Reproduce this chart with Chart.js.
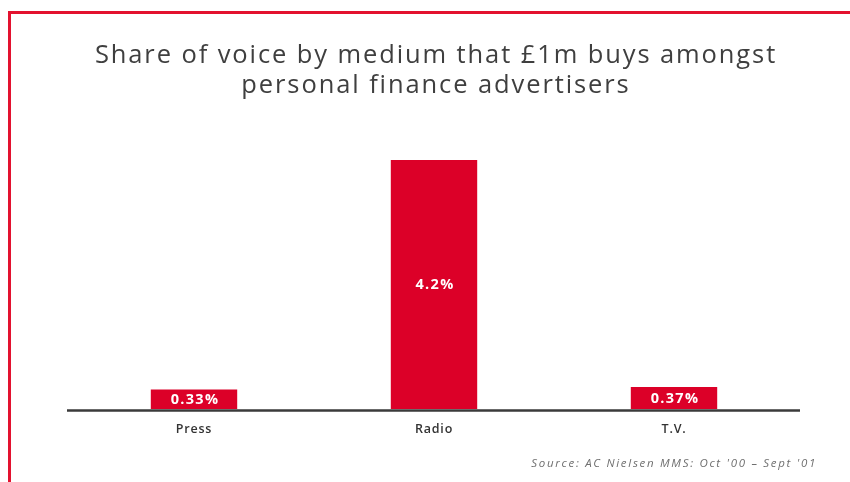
<!DOCTYPE html>
<html>
<head>
<meta charset="utf-8">
<script src="https://cdn.jsdelivr.net/npm/chart.js@4.4.1/dist/chart.umd.min.js"></script>
<style>
  html, body { margin: 0; padding: 0; background: #fff; }
  #wrap { position: relative; width: 850px; height: 482px; overflow: hidden; }
  /* red frame round the panel */
  #frame { position: absolute; left: 8px; top: 11px; width: 900px; height: 500px;
           border-top: 3px solid #e3122f; border-left: 3px solid #e3122f; }
  canvas { position: absolute; left: 0; top: 0; }
</style>
</head>
<body>
<div id="wrap">
  <div id="frame"></div>
  <canvas id="chart" width="850" height="482"></canvas>
</div>
<script>
// Dữ liệu biểu đồ
const categories = ['Press', 'Radio', 'T.V.'];
const shareValues = [0.33, 4.2, 0.37];
const valueLabels = ['0.33%', '4.2%', '0.37%'];
const titleLines = ['Share of voice by medium that £1m buys amongst', 'personal finance advertisers'];
const sourceText = "Source: AC Nielsen MMS: Oct '00 \u2013 Sept '01";

const barRed = '#dc0028';

// Giãn chữ cho nhãn trục (chữ gốc khá thưa)
const spacingPlugin = {
    id: 'spacing',
    beforeDraw(chart) {
        chart.ctx.letterSpacing = '0.8px';
    }
};

// Vẽ tiêu đề, đường trục ngang, nhãn giá trị trong cột và dòng nguồn
const extrasPlugin = {
    id: 'extras',
    afterDatasetsDraw(chart) {
        const ctx = chart.ctx;
        const area = chart.chartArea;
        ctx.save();

        // tiêu đề hai dòng
        ctx.fillStyle = '#3f3f3f';
        ctx.font = '25.5px "Open Sans", sans-serif';
        ctx.letterSpacing = '1.9px';
        ctx.textAlign = 'center';
        ctx.textBaseline = 'alphabetic';
        const cx = (area.left + area.right) / 2 + 2;
        ctx.fillText(titleLines[0], cx, 63);
        ctx.fillText(titleLines[1], cx, 93);

        // đường trục
        ctx.strokeStyle = '#3a3a3a';
        ctx.lineWidth = 2.5;
        ctx.beginPath();
        ctx.moveTo(area.left - 7, area.bottom + 1.5);
        ctx.lineTo(area.right + 6, area.bottom + 1.5);
        ctx.stroke();

        // nhãn giá trị
        const meta = chart.getDatasetMeta(0);
        ctx.fillStyle = '#ffffff';
        ctx.font = 'bold 14.5px "Open Sans", sans-serif';
        ctx.letterSpacing = '1.3px';
        ctx.textBaseline = 'middle';
        meta.data.forEach((bar, i) => {
            const mid = (bar.y + bar.base) / 2;
            ctx.fillText(valueLabels[i], bar.x + 1, mid + 0.5);
        });

        // nguồn
        ctx.fillStyle = '#6f6f6f';
        ctx.font = 'italic 11.5px "Open Sans", sans-serif';
        ctx.letterSpacing = '1.7px';
        ctx.textAlign = 'right';
        ctx.textBaseline = 'alphabetic';
        ctx.fillText(sourceText, 817, 467);
        ctx.restore();
    }
};

const chart = new Chart(document.getElementById('chart'), {
    type: 'bar',
    data: {
        labels: categories,
        datasets: [{
            data: shareValues,
            backgroundColor: barRed,
            borderWidth: 0,
            barPercentage: 0.36,
            categoryPercentage: 1.0
        }]
    },
    options: {
        responsive: false,
        animation: false,
        layout: { padding: { left: 74, right: 56, top: 160, bottom: 32 } },
        plugins: {
            legend: { display: false },
            tooltip: { enabled: false },
            title: { display: false }
        },
        scales: {
            x: {
                grid: { display: false, drawTicks: false },
                border: { display: false },
                ticks: {
                    color: '#333',
                    padding: 13,
                    font: { family: '"Open Sans", sans-serif', size: 12.5, weight: '600' }
                }
            },
            y: {
                display: false,
                min: 0,
                max: 4.2
            }
        }
    },
    plugins: [spacingPlugin, extrasPlugin]
});
</script>
</body>
</html>
